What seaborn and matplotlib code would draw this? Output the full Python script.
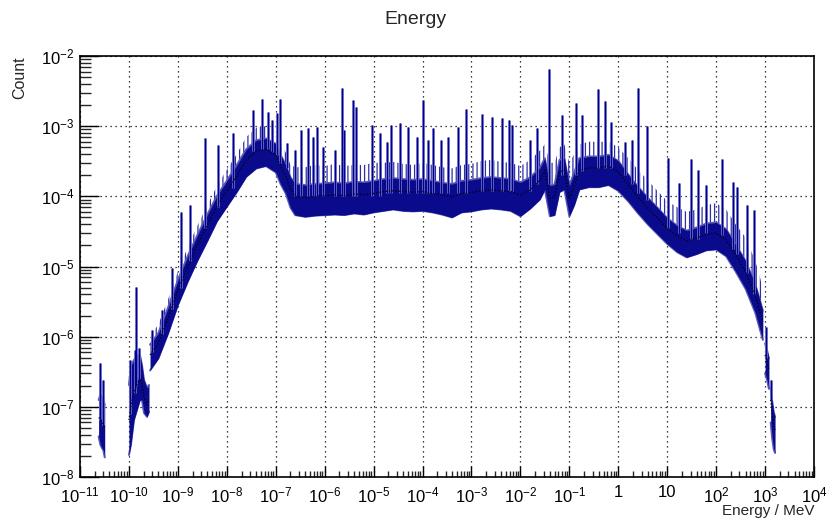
import numpy as np
import pandas as pd
import matplotlib
matplotlib.use("Agg")
import matplotlib.pyplot as plt
import seaborn as sns
from matplotlib.ticker import FixedLocator, FixedFormatter, LogLocator, NullFormatter

# ---------------- data ----------------
# segment A (isolated cluster near 3e-11 MeV)
seg_a_energy = [2.4e-11, 2.6e-11, 2.8e-11, 3.0e-11, 3.2e-11]
seg_a_count = [7.0e-8, 6.8e-8, 6.2e-8, 5.6e-8, 5.0e-8]
seg_a_low = [3.8e-8, 2.9e-8, 2.6e-8, 2.4e-8, 1.9e-8]
seg_a_high = [1.25e-7, 1.48e-7, 1.4e-7, 1.34e-7, 1.06e-7]

# segment B (cluster 1e-10 .. 2.6e-10 MeV)
seg_b_energy = [1.0e-10, 1.1e-10, 1.27e-10, 1.46e-10, 1.68e-10, 1.85e-10, 2.03e-10, 2.34e-10, 2.57e-10]
seg_b_count = [6.5e-8, 1.06e-7, 1.63e-7, 2.05e-7, 2.58e-7, 2.05e-7, 1.34e-7, 1.06e-7, 1.25e-7]
seg_b_low = [2.06e-8, 2.9e-8, 6.5e-8, 9.0e-8, 1.25e-7, 1.25e-7, 8.2e-8, 7.2e-8, 8.5e-8]
seg_b_high = [2.05e-7, 3.9e-7, 4.66e-7, 5.5e-7, 5.5e-7, 3.9e-7, 2.42e-7, 1.86e-7, 2.05e-7]

# segment C (main continuous spectrum)
seg_c_energy = [2.7e-10, 4.0e-10, 6.3e-10, 1.0e-9, 1.6e-9, 2.5e-9, 4.0e-9, 6.3e-9,
                1.0e-8, 1.6e-8, 2.5e-8, 4.0e-8, 6.3e-8, 1.0e-7, 1.26e-7, 1.6e-7,
                2.0e-7, 2.5e-7, 4.0e-7, 6.3e-7, 1.0e-6, 1.6e-6, 2.5e-6, 4.0e-6,
                6.3e-6, 1.0e-5, 1.6e-5, 2.5e-5, 4.0e-5, 6.3e-5, 1.0e-4, 1.6e-4,
                2.5e-4, 4.0e-4, 6.3e-4, 1.0e-3, 1.6e-3, 2.5e-3, 4.0e-3, 6.3e-3,
                1.0e-2, 1.6e-2, 2.5e-2, 3.16e-2, 4.0e-2, 5.0e-2, 6.3e-2, 7.9e-2,
                1.0e-1, 1.26e-1, 1.6e-1, 2.5e-1, 4.0e-1, 6.3e-1, 1.0, 1.6,
                2.5, 4.0, 6.3, 10.0, 16.0, 25.0, 40.0, 63.0,
                100.0, 160.0, 250.0, 400.0, 630.0, 790.0, 900.0]
seg_c_count = [5.5e-7, 8.1e-7, 1.85e-6, 4.6e-6, 1.02e-5, 2.03e-5, 3.9e-5, 7.3e-5,
               1.19e-4, 1.95e-4, 3.3e-4, 4.4e-4, 4.7e-4, 3.9e-4, 2.7e-4, 1.95e-4,
               1.27e-4, 1.0e-4, 9.6e-5, 1.0e-4, 1.02e-4, 1.05e-4, 1.02e-4, 1.08e-4,
               1.05e-4, 1.1e-4, 1.17e-4, 1.2e-4, 1.17e-4, 1.14e-4, 1.17e-4, 1.1e-4,
               1.04e-4, 9.8e-5, 1.1e-4, 1.14e-4, 1.2e-4, 1.24e-4, 1.2e-4, 1.17e-4,
               1.04e-4, 1.24e-4, 1.7e-4, 2.37e-4, 9.3e-5, 9.8e-5, 2.22e-4, 2.37e-4,
               9.3e-5, 1.45e-4, 2.37e-4, 2.53e-4, 2.53e-4, 2.71e-4, 2.22e-4, 1.45e-4,
               9.8e-5, 6.8e-5, 4.9e-5, 3.5e-5, 2.72e-5, 2.31e-5, 2.55e-5, 2.9e-5,
               3.0e-5, 2.39e-5, 1.46e-5, 8.4e-6, 3.9e-6, 2.25e-6, 1.62e-6]
seg_c_low = [3.3e-7, 4.9e-7, 1.1e-6, 2.8e-6, 6.1e-6, 1.2e-5, 2.3e-5, 4.4e-5,
             7.1e-5, 1.15e-4, 1.9e-4, 2.5e-4, 2.7e-4, 2.2e-4, 1.5e-4, 1.1e-4,
             6.9e-5, 5.4e-5, 5.1e-5, 5.3e-5, 5.4e-5, 5.5e-5, 5.4e-5, 5.7e-5,
             5.5e-5, 5.9e-5, 6.2e-5, 6.5e-5, 6.2e-5, 6.1e-5, 6.2e-5, 5.9e-5,
             5.5e-5, 5.0e-5, 5.9e-5, 6.1e-5, 6.5e-5, 6.7e-5, 6.5e-5, 6.2e-5,
             5.2e-5, 6.7e-5, 9.0e-5, 1.25e-4, 5.2e-5, 5.4e-5, 1.15e-4, 1.25e-4,
             5.2e-5, 7.5e-5, 1.25e-4, 1.35e-4, 1.35e-4, 1.45e-4, 1.2e-4, 8.5e-5,
             5.8e-5, 4.0e-5, 2.9e-5, 2.1e-5, 1.6e-5, 1.35e-5, 1.5e-5, 1.7e-5,
             1.75e-5, 1.4e-5, 8.5e-6, 4.8e-6, 2.2e-6, 1.25e-6, 9.0e-7]
seg_c_high = [7.7e-7, 1.13e-6, 2.6e-6, 6.4e-6, 1.43e-5, 2.8e-5, 5.5e-5, 1.02e-4,
              1.67e-4, 2.8e-4, 4.7e-4, 6.3e-4, 6.7e-4, 5.6e-4, 3.9e-4, 2.8e-4,
              1.87e-4, 1.5e-4, 1.45e-4, 1.5e-4, 1.53e-4, 1.58e-4, 1.53e-4, 1.62e-4,
              1.58e-4, 1.66e-4, 1.76e-4, 1.82e-4, 1.76e-4, 1.72e-4, 1.76e-4, 1.66e-4,
              1.56e-4, 1.5e-4, 1.66e-4, 1.72e-4, 1.82e-4, 1.88e-4, 1.82e-4, 1.76e-4,
              1.58e-4, 1.88e-4, 2.55e-4, 3.5e-4, 1.42e-4, 1.48e-4, 3.3e-4, 3.5e-4,
              1.42e-4, 2.2e-4, 3.5e-4, 3.7e-4, 3.7e-4, 3.9e-4, 3.2e-4, 2.05e-4,
              1.38e-4, 9.6e-5, 6.9e-5, 4.9e-5, 3.8e-5, 3.25e-5, 3.6e-5, 4.1e-5,
              4.25e-5, 3.4e-5, 2.06e-5, 1.2e-5, 5.6e-6, 3.25e-6, 2.35e-6]
# upper extent of the dense small bin-to-bin fluctuations above the band
seg_c_fluct = [1.0e-6, 1.5e-6, 3.4e-6, 8.5e-6, 1.9e-5, 3.8e-5, 7.5e-5, 1.4e-4,
               2.4e-4, 4.0e-4, 7.0e-4, 9.5e-4, 1.0e-3, 8.5e-4, 6.0e-4, 4.2e-4,
               2.8e-4, 2.6e-4, 2.6e-4, 2.8e-4, 2.7e-4, 2.9e-4, 2.7e-4, 2.8e-4,
               2.8e-4, 3.0e-4, 3.0e-4, 3.1e-4, 2.9e-4, 2.8e-4, 3.0e-4, 2.8e-4,
               2.6e-4, 2.5e-4, 2.8e-4, 2.9e-4, 3.2e-4, 3.3e-4, 3.1e-4, 3.0e-4,
               2.7e-4, 3.3e-4, 4.5e-4, 5.5e-4, 3.0e-4, 3.0e-4, 5.0e-4, 5.5e-4,
               3.0e-4, 4.0e-4, 5.5e-4, 6.0e-4, 6.0e-4, 6.0e-4, 5.0e-4, 3.5e-4,
               2.4e-4, 1.7e-4, 1.2e-4, 8.5e-5, 7.0e-5, 6.0e-5, 6.5e-5, 7.5e-5,
               8.0e-5, 6.5e-5, 4.0e-5, 2.6e-5, 1.2e-5, 7.0e-6, 4.5e-6]

# segment D and E (tail clusters above 1 GeV)
seg_d_energy = [1.0e3, 1.1e3, 1.2e3]
seg_d_count = [5.5e-7, 4.4e-7, 3.35e-7]
seg_d_low = [3.0e-7, 2.4e-7, 1.8e-7]
seg_d_high = [8.0e-7, 6.4e-7, 4.9e-7]

seg_e_energy = [1.3e3, 1.4e3, 1.5e3, 1.6e3]
seg_e_count = [1.25e-7, 7.7e-8, 5.5e-8, 4.7e-8]
seg_e_low = [6.0e-8, 3.5e-8, 2.5e-8, 2.2e-8]
seg_e_high = [1.9e-7, 1.2e-7, 8.5e-8, 7.2e-8]

# isolated high bins (spikes)
spike_energy = [2.56e-11, 2.95e-11, 1.05e-10, 1.33e-10, 1.40e-10, 1.61e-10, 2.96e-10, 4.74e-10,
                7.59e-10, 1.16e-9, 1.77e-9, 3.59e-9, 6.6e-9, 1.34e-8, 3.44e-8, 5.25e-8,
                6.95e-8, 8.4e-8, 1.06e-7, 1.22e-7, 1.70e-7, 2.48e-7, 3.29e-7, 4.57e-7,
                5.78e-7, 6.98e-7, 9.25e-7, 1.63e-6, 2.26e-6, 2.48e-6, 3.79e-6, 4.38e-6,
                9.3e-6, 1.35e-5, 1.88e-5, 2.27e-5, 3.47e-5, 5.05e-5, 7.7e-5, 1.02e-4,
                1.29e-4, 1.64e-4, 2.39e-4, 3.32e-4, 5.3e-4, 7.7e-4, 1.64e-3, 2.63e-3,
                4.2e-3, 5.9e-3, 6.7e-3, 1.57e-2, 2.19e-2, 3.85e-2, 7.1e-2, 0.137,
                0.182, 0.386, 0.537, 0.711, 1.37, 1.91, 2.53, 3.87,
                10.4, 17.5, 30.7, 42.7, 62.2, 132.0, 222.0, 267.0,
                429.0, 596.0, 1050.0, 1300.0]
spike_top = [4.2e-7, 2.4e-7, 4.66e-7, 6.5e-7, 5.1e-6, 6.9e-7, 1.25e-6, 2.4e-6,
             9.5e-6, 6.0e-5, 7.5e-5, 6.8e-4, 5.4e-4, 8.0e-4, 1.7e-3, 2.4e-3,
             1.59e-3, 1.22e-3, 1.54e-3, 2.4e-3, 5.8e-4, 4.6e-4, 8.8e-4, 9.4e-4,
             7.0e-4, 9.7e-4, 5.0e-4, 4.6e-4, 3.5e-3, 8.8e-4, 2.36e-3, 1.88e-3,
             1.04e-3, 8.0e-4, 5.9e-4, 1.04e-3, 1.11e-3, 9.7e-4, 7.0e-4, 2.36e-3,
             6.4e-4, 9.4e-4, 6.4e-4, 7.0e-4, 9.7e-4, 1.76e-3, 1.49e-3, 1.35e-3,
             1.31e-3, 1.22e-3, 1.04e-3, 6.4e-4, 9.4e-4, 6.5e-3, 1.44e-3, 2.14e-3,
             1.44e-3, 3.4e-3, 2.28e-3, 1.15e-3, 5.9e-4, 6.4e-4, 3.5e-3, 1.0e-3,
             3.5e-4, 1.55e-4, 3.4e-4, 2.37e-4, 1.45e-4, 3.4e-4, 1.6e-4, 1.36e-4,
             7.5e-5, 6.4e-5, 1.37e-6, 2.4e-7]
spike_base = [6.5e-8, 5.5e-8, 8.0e-8, 1.6e-7, 2.0e-7, 2.5e-7, 6.0e-7, 1.1e-6,
              2.5e-6, 5.0e-6, 1.2e-5, 3.5e-5, 7.0e-5, 1.3e-4, 4.4e-4, 4.7e-4,
              4.7e-4, 4.3e-4, 3.9e-4, 3.0e-4, 2.5e-4, 1.0e-4, 1.0e-4, 1.0e-4,
              1.0e-4, 1.0e-4, 1.0e-4, 1.0e-4, 1.0e-4, 1.0e-4, 1.0e-4, 1.0e-4,
              1.0e-4, 1.0e-4, 1.1e-4, 1.1e-4, 1.1e-4, 1.1e-4, 1.1e-4, 1.1e-4,
              1.1e-4, 1.1e-4, 1.1e-4, 1.1e-4, 1.1e-4, 1.1e-4, 1.2e-4, 1.2e-4,
              1.2e-4, 1.2e-4, 1.2e-4, 1.2e-4, 1.5e-4, 1.5e-4, 2.0e-4, 2.0e-4,
              2.3e-4, 2.5e-4, 2.5e-4, 2.5e-4, 2.0e-4, 1.5e-4, 1.1e-4, 9.0e-5,
              3.5e-5, 3.0e-5, 2.5e-5, 2.5e-5, 3.0e-5, 2.8e-5, 1.8e-5, 1.5e-5,
              8.0e-6, 4.0e-6, 5.0e-7, 1.25e-7]

x_tick_values = [1e-11, 1e-10, 1e-9, 1e-8, 1e-7, 1e-6, 1e-5, 1e-4, 1e-3, 1e-2, 1e-1, 1, 10, 1e2, 1e3, 1e4]
x_tick_labels = [r"$10^{-11}$", r"$10^{-10}$", r"$10^{-9}$", r"$10^{-8}$", r"$10^{-7}$",
                 r"$10^{-6}$", r"$10^{-5}$", r"$10^{-4}$", r"$10^{-3}$", r"$10^{-2}$",
                 r"$10^{-1}$", "1", "10", r"$10^{2}$", r"$10^{3}$", r"$10^{4}$"]
y_tick_values = [1e-8, 1e-7, 1e-6, 1e-5, 1e-4, 1e-3, 1e-2]
y_tick_labels = [r"$10^{-8}$", r"$10^{-7}$", r"$10^{-6}$", r"$10^{-5}$",
                 r"$10^{-4}$", r"$10^{-3}$", r"$10^{-2}$"]

# ---------------- assemble ----------------
segments = {
    "A": (seg_a_energy, seg_a_count, seg_a_low, seg_a_high),
    "B": (seg_b_energy, seg_b_count, seg_b_low, seg_b_high),
    "C": (seg_c_energy, seg_c_count, seg_c_low, seg_c_high),
    "D": (seg_d_energy, seg_d_count, seg_d_low, seg_d_high),
    "E": (seg_e_energy, seg_e_count, seg_e_low, seg_e_high),
}
frames = []
for name, (e, c, lo, hi) in segments.items():
    frames.append(pd.DataFrame({"energy": e, "count": c, "low": lo, "high": hi, "segment": name}))
df = pd.concat(frames, ignore_index=True)

sns.set_theme(style="white")
plt.rcParams["font.family"] = ["Liberation Sans", "DejaVu Sans"]
plt.rcParams["mathtext.fontset"] = "custom"
plt.rcParams["mathtext.rm"] = "Liberation Sans"
plt.rcParams["mathtext.it"] = "Liberation Sans:italic"
plt.rcParams["mathtext.bf"] = "Liberation Sans:bold"
plt.rcParams["hatch.linewidth"] = 0.9

fig = plt.figure(figsize=(8.3, 5.2), dpi=100)
fig.patch.set_facecolor("white")
ax = fig.add_axes([80 / 830, 1 - 477 / 520, 734 / 830, 421 / 520])
ax.set_xscale("log")
ax.set_yscale("log")

band_color = "#0a0a8c"
edge_color = "#5a5ab8"

# dense small fluctuations above the band
ax.fill_between(seg_c_energy, seg_c_high, seg_c_fluct, facecolor="none",
                edgecolor="#2e2ea6", hatch="||||", lw=0, zorder=1.8)

for name, g in df.groupby("segment"):
    ax.fill_between(g["energy"], g["low"], g["high"], color=band_color, lw=0, zorder=2)
    ax.plot(g["energy"], g["low"], color=edge_color, lw=1.4, zorder=1.9)
    ax.plot(g["energy"], g["high"], color=edge_color, lw=1.4, zorder=1.9)

ax.vlines(spike_energy, spike_base, spike_top, colors="#7272c8", lw=2.0, zorder=3)
ax.vlines(spike_energy, spike_base, spike_top, colors="#00008f", lw=0.9, zorder=3.5)

sns.lineplot(data=df, x="energy", y="count", units="segment", estimator=None,
             color="black", lw=0.9, linestyle=(0, (1, 1.6)), ax=ax, zorder=5, legend=False)

ax.set_xlim(1e-11, 1e4)
ax.set_ylim(1e-8, 1e-2)

ax.xaxis.set_major_locator(FixedLocator(x_tick_values))
ax.xaxis.set_major_formatter(FixedFormatter(x_tick_labels))
ax.xaxis.set_minor_locator(LogLocator(base=10, subs=np.arange(2, 10), numticks=100))
ax.xaxis.set_minor_formatter(NullFormatter())
ax.yaxis.set_major_locator(FixedLocator(y_tick_values))
ax.yaxis.set_major_formatter(FixedFormatter(y_tick_labels))
ax.yaxis.set_minor_locator(LogLocator(base=10, subs=np.arange(2, 10), numticks=100))
ax.yaxis.set_minor_formatter(NullFormatter())

ax.tick_params(axis="x", which="major", direction="in", length=8, width=1.0, pad=6,
               labelsize=12, colors="black", bottom=True, top=False)
ax.tick_params(axis="x", which="minor", direction="in", length=4.5, width=1.0,
               bottom=True, top=False)
ax.tick_params(axis="y", which="major", direction="in", length=14, width=1.0, pad=4,
               labelsize=12, colors="black", left=True, right=False)
ax.tick_params(axis="y", which="minor", direction="in", length=8, width=1.0,
               left=True, right=False)

ax.grid(True, which="major", color="black", linestyle=(0, (1, 3)), linewidth=0.9)
ax.grid(False, which="minor")
ax.set_axisbelow(True)
for s in ax.spines.values():
    s.set_color("black")
    s.set_linewidth(1.2)
ax.set_xlabel("")
ax.set_ylabel("")

fig.text(0.5, 1 - 20 / 520, "Energy", ha="center", va="center", fontsize=14)
fig.text(20 / 830, 1 - 56 / 520, "Count", rotation=90, ha="center", va="top", fontsize=11.5)
fig.text(814 / 830, 1 - 518 / 520, "Energy / MeV", ha="right", va="bottom", fontsize=11)

fig.savefig("out.png", dpi=100, facecolor="white")
